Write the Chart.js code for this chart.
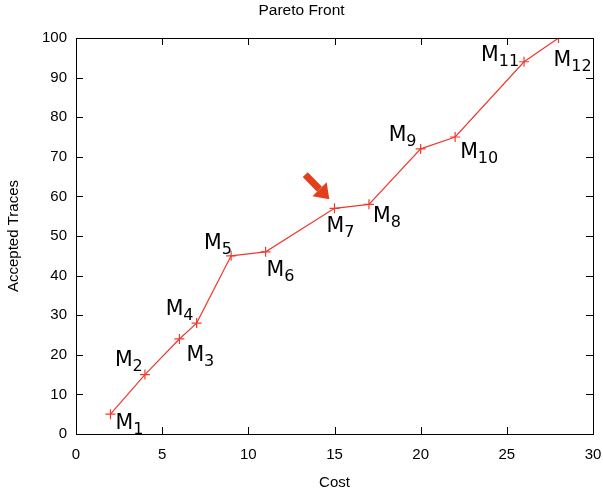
<!DOCTYPE html>
<html>
<head>
<meta charset="utf-8">
<script src="https://cdn.jsdelivr.net/npm/chart.js@4.4.0/dist/chart.umd.min.js"></script>
<style>
  html, body { margin: 0; padding: 0; background: #fff; }
  #wrap { width: 603px; height: 496px; }
</style>
</head>
<body>
<div id="wrap"><canvas id="chart" width="603" height="496"></canvas></div>
<script>
// data
const costs = [2, 4, 6, 7, 9, 11, 15, 17, 20, 22, 26, 28];
const traces = [5, 15, 24, 28, 45, 46, 57, 58, 72, 75, 94, 100];
const modelNames = ['1', '2', '3', '4', '5', '6', '7', '8', '9', '10', '11', '12'];
// arrow pointing at M7: tail and head in data units
const arrowFrom = [13.3, 65.5];
const arrowTo = [14.7, 59.3];

// label offsets from the point, in pixels (left edge of M, baseline)
const labelOffsets = [
  [5, 15], [-30, -9], [7, 22], [-31, -8], [-27, -7], [1, 24],
  [-8, 24], [4, 18], [-32, -8], [5, 21], [-43, -1], [-5, 28]
];

const points = costs.map((c, i) => ({ x: c, y: traces[i] }));

const framePlugin = {
  id: 'frame',
  afterDraw(chart) {
    const ctx = chart.ctx;
    const a = chart.chartArea;
    const xs = chart.scales.x, ys = chart.scales.y;
    ctx.save();
    ctx.strokeStyle = '#000';
    ctx.lineWidth = 1;
    ctx.strokeRect(a.left + 0.5, a.top + 0.5, a.right - a.left, a.bottom - a.top);
    const t = 7;
    ctx.beginPath();
    xs.ticks.forEach(tk => {
      const px = Math.round(xs.getPixelForValue(tk.value)) + 0.5;
      ctx.moveTo(px, a.bottom); ctx.lineTo(px, a.bottom - t);
      ctx.moveTo(px, a.top); ctx.lineTo(px, a.top + t);
    });
    ys.ticks.forEach(tk => {
      const py = Math.round(ys.getPixelForValue(tk.value)) + 0.5;
      ctx.moveTo(a.left, py); ctx.lineTo(a.left + t, py);
      ctx.moveTo(a.right, py); ctx.lineTo(a.right - t, py);
    });
    ctx.stroke();

    // point labels M_i
    ctx.fillStyle = '#000';
    ctx.textBaseline = 'alphabetic';
    points.forEach((p, i) => {
      const px = xs.getPixelForValue(p.x) + labelOffsets[i][0];
      const py = ys.getPixelForValue(p.y) + labelOffsets[i][1];
      ctx.font = '20.5px "DejaVu Sans"';
      ctx.fillText('M', px, py);
      const w = ctx.measureText('M').width;
      ctx.font = '16px "DejaVu Sans"';
      ctx.fillText(modelNames[i], px + w, py + 5);
    });

    // arrow
    const x1 = xs.getPixelForValue(arrowFrom[0]), y1 = ys.getPixelForValue(arrowFrom[1]);
    const x2 = xs.getPixelForValue(arrowTo[0]), y2 = ys.getPixelForValue(arrowTo[1]);
    const ang = Math.atan2(y2 - y1, x2 - x1);
    const headLen = 14, headW = 10;
    const bx = x2 - headLen * Math.cos(ang), by = y2 - headLen * Math.sin(ang);
    ctx.strokeStyle = '#e2401c';
    ctx.fillStyle = '#e2401c';
    ctx.lineWidth = 7;
    ctx.beginPath();
    ctx.moveTo(x1, y1); ctx.lineTo(bx, by);
    ctx.stroke();
    ctx.beginPath();
    ctx.moveTo(x2, y2);
    ctx.lineTo(bx + headW * Math.sin(ang), by - headW * Math.cos(ang));
    ctx.lineTo(bx - headW * Math.sin(ang), by + headW * Math.cos(ang));
    ctx.closePath();
    ctx.fill();
    ctx.restore();
  }
};

const axisFont = { family: 'Liberation Sans', size: 15 };

new Chart(document.getElementById('chart'), {
  type: 'scatter',
  data: {
    datasets: [{
      data: points,
      showLine: true,
      borderColor: '#f03a2e',
      borderWidth: 1.2,
      pointStyle: 'cross',
      pointRadius: 5,
      pointBorderColor: '#f03a2e',
      pointBorderWidth: 1.2,
      tension: 0
    }]
  },
  options: {
    responsive: false,
    animation: false,
    devicePixelRatio: 1,
    layout: { padding: { left: 0, right: 0, top: 0, bottom: 0 } },
    plugins: {
      legend: { display: false },
      tooltip: { enabled: false },
      title: {
        display: true,
        text: 'Pareto Front',
        color: '#000',
        font: { family: 'Liberation Sans', size: 15.5, weight: 'normal' },
        padding: { top: 1, bottom: 18.4 }
      }
    },
    scales: {
      x: {
        type: 'linear',
        min: 0, max: 30,
        afterFit(s) { s.height = 62; s.paddingRight = 10; s.paddingLeft = 0; },
        ticks: { stepSize: 5, color: '#000', font: axisFont, padding: 12 },
        grid: { display: false, drawTicks: false },
        border: { display: false },
        title: { display: true, text: 'Cost', color: '#000', font: axisFont, padding: { top: 0, bottom: 4 } }
      },
      y: {
        type: 'linear',
        min: 0, max: 100,
        afterFit(s) { s.width = 76; },
        ticks: { stepSize: 10, color: '#000', font: axisFont, padding: 9 },
        grid: { display: false, drawTicks: false },
        border: { display: false },
        title: { display: true, text: 'Accepted Traces', color: '#000', font: axisFont, padding: { top: 5, bottom: 0 } }
      }
    }
  },
  plugins: [framePlugin]
});
</script>
</body>
</html>
